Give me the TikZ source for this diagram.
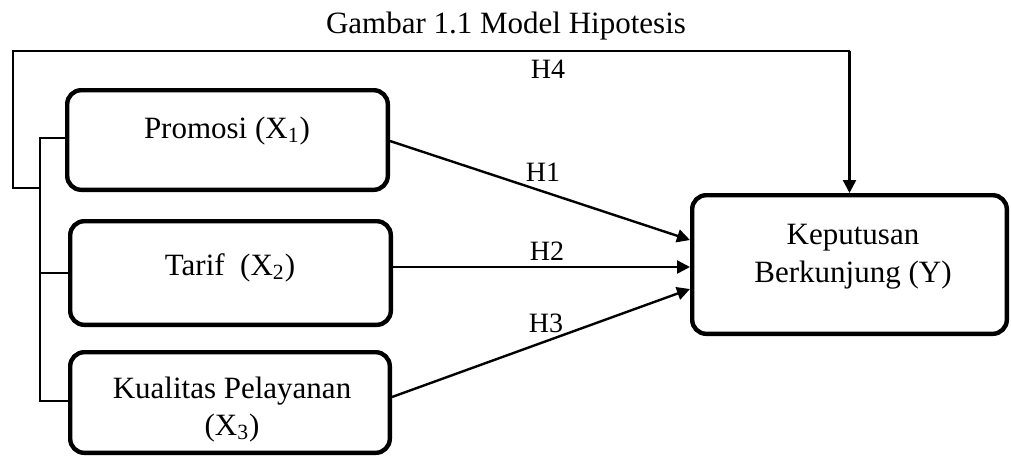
\documentclass[tikz,border=0pt]{standalone}
\usepackage{fontspec}
\setmainfont{Liberation Serif}
\usetikzlibrary{arrows.meta}
\begin{document}
\begin{tikzpicture}[x=0.5pt,y=-0.5pt,
  box/.style={draw,line width=2.2pt,rounded corners=7pt,inner sep=0pt,outer sep=0.5\pgflinewidth},
  txt/.style={font=\fontsize{15.5}{19}\selectfont,inner sep=0pt,anchor=base,align=center},
  hlab/.style={font=\fontsize{14}{17}\selectfont,inner sep=0pt,anchor=base},
  link/.style={line width=0.9pt},
  arr/.style={line width=1.2pt,-{Triangle[length=6.5pt,width=6.5pt]}}]
\useasboundingbox (0,0) rectangle (1011,457);
% title
\node[txt] (title) at (506,33) {Gambar 1.1 Model Hipotesis};
% boxes
\node[box,minimum width=160.3pt,minimum height=49.8pt] (P) at (227.5,140) {};
\node[box,minimum width=160.3pt,minimum height=51.8pt] (T) at (230.5,273) {};
\node[box,minimum width=159.8pt,minimum height=50.3pt] (K) at (230,402.5) {};
\node[box,minimum width=157.3pt,minimum height=69.3pt] (Y) at (849.5,264.5) {};
% box texts
\node[txt] (Ptext) at (227,138) {Promosi (X\textsubscript{1})};
\node[txt] (Ttext) at (230,275) {Tarif\ \ (X\textsubscript{2})};
\node[txt] (Ktext1) at (232,398) {Kualitas Pelayanan};
\node[txt] (Ktext2) at (232,435) {(X\textsubscript{3})};
\node[txt] (Ytext1) at (853,244) {Keputusan};
\node[txt] (Ytext2) at (853,282) {Berkunjung (Y)};
% bracket on the left
\coordinate (jt) at (40,138);
\coordinate (jb) at (40,401);
\coordinate (oj) at (13,188);
\coordinate (ot) at (13,51);
\draw[link] (P.west |- jt) -- (jt) -- (jb) -- (K.west |- jb);
\draw[link] (jt |- T.west) -- (T.west);
% H4 path
\draw[link] (jt |- oj) -- (oj) -- (ot) -- (ot -| Y.north);
\draw[arr] (ot -| Y.north) -- (Y.north);
% arrows H1-H3
\draw[arr] (P.east |- 0,141) -- (Y.west |- 0,240);
\draw[arr] (T.east |- 0,267) -- (Y.west |- 0,267);
\draw[arr] (K.east |- 0,397) -- (Y.west |- 0,289);
% labels
\node[hlab] (H4) at (548,78) {H4};
\node[hlab] (H1) at (543,181) {H1};
\node[hlab] (H2) at (547,260) {H2};
\node[hlab] (H3) at (546,332) {H3};
\end{tikzpicture}
\end{document}
